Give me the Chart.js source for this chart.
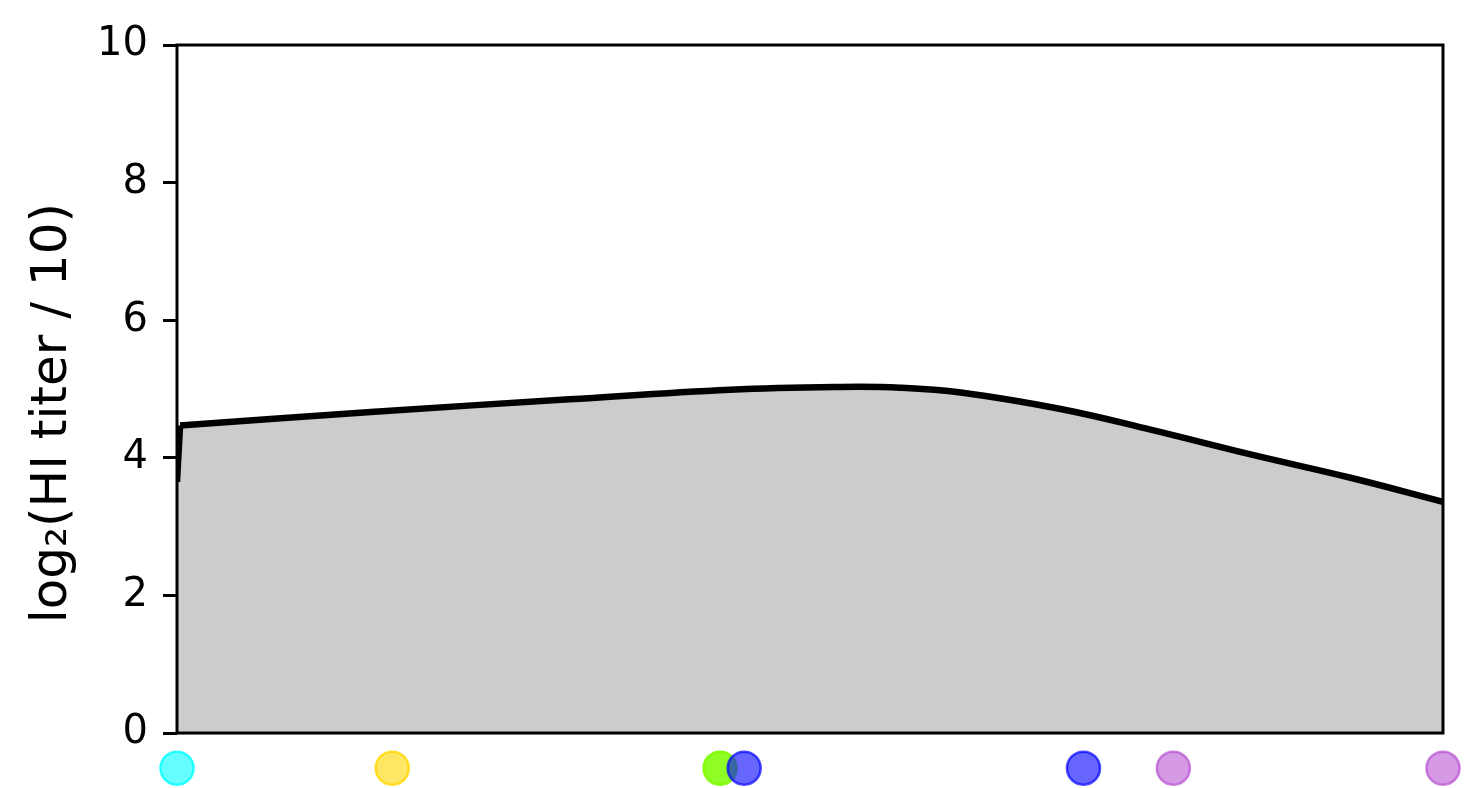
<!DOCTYPE html>
<html>
<head>
<meta charset="utf-8">
<script src="https://cdn.jsdelivr.net/npm/chart.js@4"></script>
<style>
  html, body { margin: 0; padding: 0; background: #fff; }
  #wrap { width: 1472px; height: 788px; }
</style>
</head>
<body>
<div id="wrap"><canvas id="chart"></canvas></div>
<script>
// titer curve (x on a 0..100 scale); first two points are the steep start
const startX = [0, 0.24];
const startY = [3.65, 4.47];
const curveX = [0.24, 15.6, 31.0, 43.7, 52.4, 57.1, 61.9, 69.8, 76.9, 84.8, 92.7, 100];
const curveY = [4.47, 4.67, 4.85, 4.99, 5.03, 5.02, 4.95, 4.71, 4.41, 4.05, 3.71, 3.36];

// sample markers under the axis
const dotX = [0, 17.0, 42.9, 44.8, 71.6, 78.7, 100];
const dotY = [-0.51, -0.51, -0.51, -0.51, -0.51, -0.51, -0.51];
const dotFill = ["rgba(0,255,255,0.6)", "rgba(255,215,0,0.6)", "rgba(124,252,0,0.85)", "rgba(0,0,255,0.6)",
                 "rgba(0,0,255,0.6)", "rgba(186,85,211,0.6)", "rgba(186,85,211,0.6)"];
const dotEdge = ["rgba(0,255,255,0.8)", "rgba(255,215,0,0.8)", "rgba(124,252,0,0.9)", "rgba(0,0,255,0.7)",
                 "rgba(0,0,255,0.7)", "rgba(186,85,211,0.75)", "rgba(186,85,211,0.75)"];

const yTicks = [0, 2, 4, 6, 8, 10];

// axes box drawn only over the 0..10 range
const frame = {
  id: "frame",
  afterDatasetsDraw(chart) {
    const { ctx, chartArea: a } = chart;
    const y = chart.scales.y;
    const top = y.getPixelForValue(10), bot = y.getPixelForValue(0);
    ctx.save();
    ctx.strokeStyle = "#000";
    ctx.lineWidth = 3;
    ctx.strokeRect(a.left, top, a.right - a.left, bot - top);
    ctx.restore();
  }
};

const curveStyle = {
  borderColor: "#000",
  borderWidth: 6.5,
  backgroundColor: "#cccccc",
  fill: "origin",
  pointRadius: 0,
  order: 2
};

new Chart(document.getElementById("chart"), {
  type: "line",
  data: {
    datasets: [
      { ...curveStyle, data: startX.map((x, i) => ({ x, y: startY[i] })), tension: 0 },
      { ...curveStyle, data: curveX.map((x, i) => ({ x, y: curveY[i] })), tension: 0.4 },
      {
        type: "scatter",
        data: dotX.map((x, i) => ({ x, y: dotY[i] })),
        backgroundColor: dotFill,
        borderColor: dotEdge,
        borderWidth: 2.5,
        pointRadius: 16.5,
        clip: false,
        order: 1
      }
    ]
  },
  options: {
    responsive: true,
    maintainAspectRatio: false,
    animation: false,
    layout: { autoPadding: false, padding: { top: 45, right: 29, left: 0, bottom: 0 } },
    plugins: { legend: { display: false }, tooltip: { enabled: false } },
    scales: {
      x: {
        type: "linear",
        min: 0,
        max: 100,
        ticks: { display: false },
        grid: { display: false },
        border: { display: false },
        afterFit(scale) { scale.height = 6.8; scale.paddingLeft = 0; scale.paddingRight = 0; }
      },
      y: {
        min: -0.7,
        max: 10,
        afterBuildTicks(scale) { scale.ticks = yTicks.map(v => ({ value: v })); },
        ticks: {
          color: "#000",
          font: { family: "DejaVu Sans", size: 40 },
          padding: 15
        },
        grid: { drawOnChartArea: false, drawTicks: true, tickLength: 14, tickWidth: 3, color: "#000" },
        border: { display: false },
        title: {
          display: true,
          text: "log₂(HI titer / 10)",
          color: "#000",
          font: { family: "DejaVu Sans", size: 50 },
          padding: { top: 23, bottom: 0 }
        },
        afterFit(scale) { scale.width = 177; scale.paddingTop = 0; scale.paddingBottom = 0; }
      }
    }
  },
  plugins: [frame]
});
</script>
</body>
</html>
